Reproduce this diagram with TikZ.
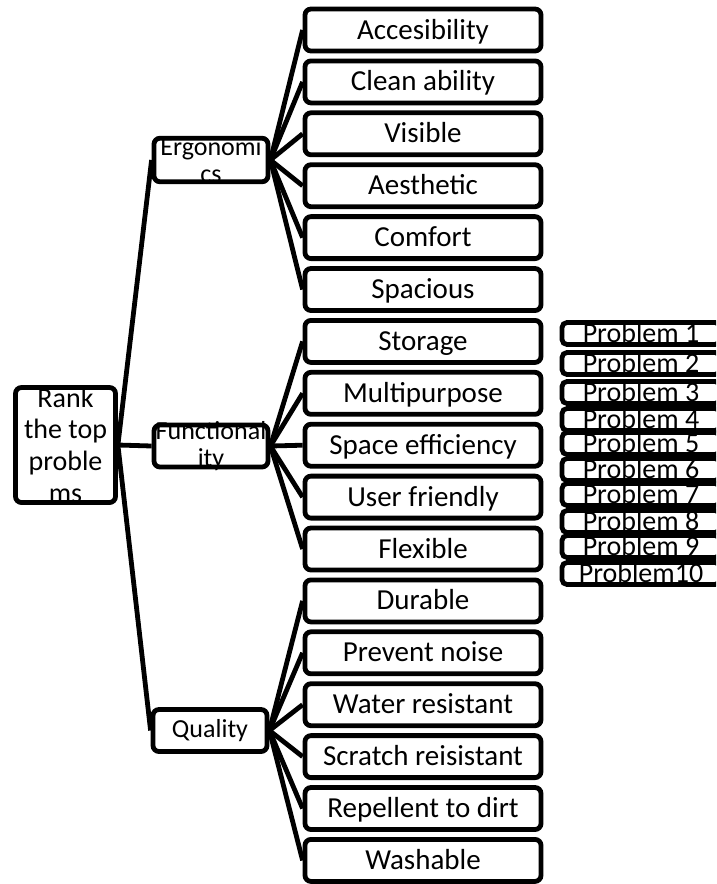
\documentclass[tikz,border=0pt]{standalone}
\usepackage{fontspec}
\setmainfont{Carlito}
\usetikzlibrary{positioning}

\begin{document}
\begin{tikzpicture}[x=1pt, y=-1pt,
  box/.style={draw, line width=4.8pt, rounded corners=6pt, inner sep=0pt, align=center},
  root/.style={box, minimum width=100pt, minimum height=115pt, font=\fontsize{28}{31.6}\selectfont},
  grp/.style={box, minimum width=114pt, minimum height=42pt, font=\fontsize{26}{27.5}\selectfont},
  leaf/.style={box, minimum width=236pt, minimum height=42pt, font=\fontsize{29}{30}\selectfont, text height=19pt, text depth=1pt},
  prob/.style={box, rounded corners=5pt, minimum width=158pt, minimum height=22pt, font=\fontsize{28}{30}\selectfont, text height=18pt, text depth=0pt},
  conn/.style={line width=4.8pt}]
\clip (0,0) rectangle (716,884);
% root
\node[root] (rank) at (65.5,445) {Rank\\the top\\proble\\ms};
% groups
\node[grp, inner ysep=-1pt] (ergo) at (211,160) {Ergonomi\\cs};
\node[grp, inner ysep=-4pt] (func) at (211,446) {Functional\\ity};
\node[grp, text height=19pt, text depth=6pt] (qual) at (210,730.5) {Quality};
% leaves
\node[leaf] (acc)     at (423,30)    {Accesibility};
\node[leaf] (clean)   at (423,81.9)  {Clean ability};
\node[leaf] (vis)     at (423,133.8) {Visible};
\node[leaf] (aes)     at (423,185.7) {Aesthetic};
\node[leaf] (comf)    at (423,237.6) {Comfort};
\node[leaf] (spac)    at (423,289.5) {Spacious};
\node[leaf] (stor)    at (423,341.4) {Storage};
\node[leaf] (multi)   at (423,393.3) {Multipurpose};
\node[leaf] (space)   at (423,445.2) {Space efficiency};
\node[leaf] (user)    at (423,497.1) {User friendly};
\node[leaf] (flex)    at (423,549)   {Flexible};
\node[leaf] (dur)     at (423,600.9) {Durable};
\node[leaf] (noise)   at (423,652.8) {Prevent noise};
\node[leaf] (water)   at (423,704.7) {Water resistant};
\node[leaf] (scratch) at (423,756.6) {Scratch reisistant};
\node[leaf] (dirt)    at (423,808.5) {Repellent to dirt};
\node[leaf] (wash)    at (423,860.4) {Washable};
% problem list
\node[prob] (p1)  at (641,333.5) {Problem 1};
\node[prob] (p2)  at (641,363.5) {Problem 2};
\node[prob] (p3)  at (641,392.5) {Problem 3};
\node[prob] (p4)  at (641,419.5) {Problem 4};
\node[prob] (p5)  at (641,443.5) {Problem 5};
\node[prob] (p6)  at (641,469.5) {Problem 6};
\node[prob] (p7)  at (641,494.5) {Problem 7};
\node[prob] (p8)  at (641,521.5) {Problem 8};
\node[prob] (p9)  at (641,546.5) {Problem 9};
\node[prob] (p10) at (641,573.5) {Problem10};
% connectors
\draw[conn] (rank.east) -- (ergo.west);
\draw[conn] (rank.east) -- (func.west);
\draw[conn] (rank.east) -- (qual.west);
\draw[conn] (ergo.east) -- (acc.west);
\draw[conn] (ergo.east) -- (clean.west);
\draw[conn] (ergo.east) -- (vis.west);
\draw[conn] (ergo.east) -- (aes.west);
\draw[conn] (ergo.east) -- (comf.west);
\draw[conn] (ergo.east) -- (spac.west);
\draw[conn] (func.east) -- (stor.west);
\draw[conn] (func.east) -- (multi.west);
\draw[conn] (func.east) -- (space.west);
\draw[conn] (func.east) -- (user.west);
\draw[conn] (func.east) -- (flex.west);
\draw[conn] (qual.east) -- (dur.west);
\draw[conn] (qual.east) -- (noise.west);
\draw[conn] (qual.east) -- (water.west);
\draw[conn] (qual.east) -- (scratch.west);
\draw[conn] (qual.east) -- (dirt.west);
\draw[conn] (qual.east) -- (wash.west);
\end{tikzpicture}
\end{document}
